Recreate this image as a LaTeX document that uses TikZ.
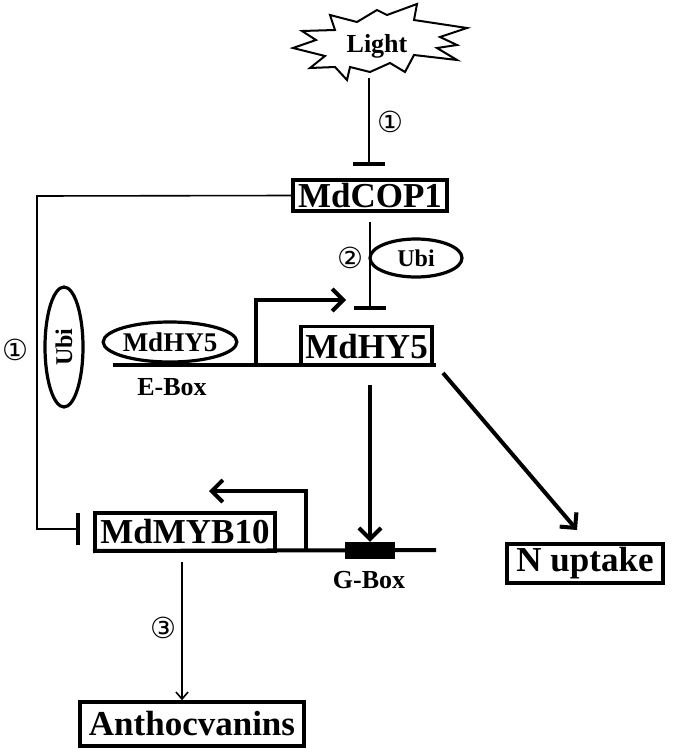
\documentclass[tikz,border=0pt]{standalone}
\usepackage{fontspec}
\setmainfont{Liberation Serif}
\newfontfamily\circfont{DejaVu Sans}
\usetikzlibrary{arrows.meta,shapes.geometric,calc}
\begin{document}
\begin{tikzpicture}[x=1pt,y=-1pt,
  box/.style={draw,line width=3.5pt,inner sep=0pt,font=\fontsize{35}{40}\selectfont\bfseries},
  lbl/.style={inner sep=0pt,font=\fontsize{26}{30}\selectfont\bfseries},
  num/.style={inner sep=0pt,font=\circfont\fontsize{29}{32}\selectfont},
  oval/.style={draw,ellipse,line width=3.2pt,inner sep=0pt},
  thin/.style={line width=1.6pt},
  thick/.style={line width=4pt},
  inhib/.style={-{Bar[width=32pt,line width=4pt]}},
  barb/.style={-{Straight Barb[length=11pt,width=22pt,line width=4pt]}},
  smallbarb/.style={-{Straight Barb[length=7pt,width=12pt,line width=1.6pt]}}
]
\useasboundingbox (0,0) rectangle (675,752);

% Light starburst
\draw[line width=2pt,line join=miter] (293,48) -- (316,40) -- (302,31) -- (335,30) -- (330,15) -- (357,22) -- (377,10) -- (387,15) -- (417,4) -- (414,20) -- (467,28) -- (440,37) -- (457,45) -- (437,48) -- (457,60) -- (414,55) -- (405,72) -- (390,63) -- (370,72) -- (350,67) -- (347,80) -- (335,67) -- (310,68) -- (325,56) -- cycle;
\node[lbl] (light) at (377,46) {Light};
\coordinate (lightb) at (369,78);

% Boxes
\node[box,minimum width=154pt,minimum height=31pt] (cop) at (370,195.5) {MdCOP1};
\node[inner sep=0pt,minimum width=131pt,minimum height=37pt] (hy5) at (366.5,345) {};
\draw[line width=3.5pt] (hy5.south west) -- (hy5.north west) -- (hy5.north east) -- (hy5.south east);
\node[inner sep=0pt,font=\fontsize{35}{40}\selectfont\bfseries] at (366.5,347) {MdHY5};
\node[box,minimum width=180pt,minimum height=38pt] (myb) at (185,532) {MdMYB10};
\node[box,minimum width=156pt,minimum height=39pt] (nup) at (585,563.5) {N uptake};
\node[box,minimum width=224pt,minimum height=44pt] (antho) at (192,724) {Anthocvanins};

% Light -| COP1
\coordinate (copbar) at (369,166);
\draw[thin,inhib] (lightb) -- (copbar);
\node[num] (n1a) at (390,122) {①};

% COP1 -| HY5
\coordinate (copb) at (370,222);
\coordinate (hy5bar) at (370,310);
\draw[thin,inhib] (copb) -- (hy5bar);
\node[num] (n2) at (350,258) {②};
\node[oval,minimum width=92pt,minimum height=38pt,font=\fontsize{24}{28}\selectfont\bfseries] (ubi1) at (416,258) {Ubi};

% HY5 promoter line
\coordinate (g1a) at (113,365);
\coordinate (g1b) at (436,365);
\draw[thick] (g1a) -- (g1b);
\node[oval,minimum width=125pt,minimum height=40pt,font=\fontsize{27}{30}\selectfont\bfseries] (hy5oval) at (170,342) {MdHY5};
\node[lbl] (ebox) at (172,387) {E-Box};
\coordinate (p1a) at (256,365);
\coordinate (p1b) at (256,300);
\coordinate (p1c) at (346,300);
\draw[thick,barb,line join=miter] (p1a) -- (p1b) -- (p1c);

% COP1 loop to MYB10
\coordinate (lc1) at (37,196);
\coordinate (lc2) at (37,529);
\coordinate (mybbar) at (80,529);
\draw[thin,inhib] (cop.west) -- (lc1) -- (lc2) -- (mybbar);
\node[oval,minimum width=38pt,minimum height=120pt] (ubi2) at (64,347) {};
\node[rotate=90,inner sep=0pt,font=\fontsize{24}{28}\selectfont\bfseries] at (ubi2.center) {Ubi};
\node[num] (n1b) at (15,350) {①};

% MYB10 gene line
\coordinate (g2a) at (93,551);
\coordinate (g2b) at (436,550);
\draw[thick] (g2a) -- (g2b);
\coordinate (p2a) at (306,551);
\coordinate (p2b) at (306,491);
\coordinate (p2c) at (209,491);
\draw[thick,barb,line join=miter] (p2a) -- (p2b) -- (p2c);
\node[fill=black,minimum width=50pt,minimum height=17pt,inner sep=0pt] (gbox) at (370,550.5) {};
\node[lbl] (gboxl) at (369,580) {G-Box};

% HY5 -> G-Box
\coordinate (hy5d) at (370,385);
\draw[thick,barb] (hy5d) -- (gbox.north);

% HY5 -> N uptake
\coordinate (hy5r) at (443,373);
\coordinate (nupt) at (577,530);
\draw[thick,barb] (hy5r) -- (nupt);

% MYB10 -> Anthocyanins
\coordinate (mybd) at (182,562);
\draw[thin,smallbarb] (mybd) -- (antho.north -| mybd);
\node[num] (n3) at (163,628) {③};
\end{tikzpicture}
\end{document}
